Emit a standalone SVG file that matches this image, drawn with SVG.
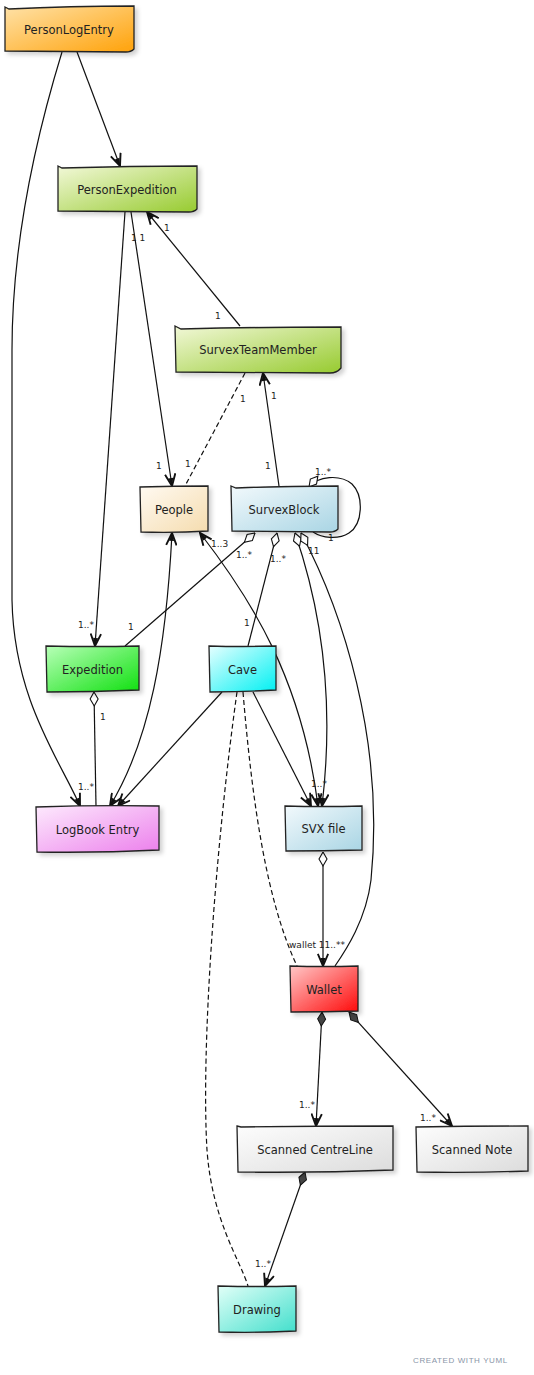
<svg xmlns="http://www.w3.org/2000/svg" width="534" height="1375" viewBox="0 0 534 1375">
<style>
.node path{stroke:#222;stroke-width:1.3;filter:url(#sh)}
.node text{font-family:"DejaVu Sans","Noto Sans",sans-serif;font-size:11.5px;fill:#222;text-anchor:middle}
.e{fill:none;stroke:#111;stroke-width:1.2}
.d{stroke-dasharray:5,3}
.lbl{font-family:"DejaVu Sans","Liberation Sans",sans-serif;font-size:9px;fill:#222}
.wm{font-family:"Liberation Sans","DejaVu Sans",sans-serif;font-size:8px;fill:#8a96a8;letter-spacing:0.6px}
</style>
<defs>
<filter id="sh" x="-10%" y="-10%" width="130%" height="140%"><feDropShadow dx="3" dy="3" stdDeviation="2" flood-color="#000" flood-opacity="0.18"/></filter>
<linearGradient id="gOr" x1="0" y1="0" x2="1" y2="1"><stop offset="0" stop-color="#ffe2a8"/><stop offset="1" stop-color="#ffa20a"/></linearGradient>
<linearGradient id="gYg" x1="0" y1="0" x2="1" y2="1"><stop offset="0" stop-color="#f2f8d8"/><stop offset="1" stop-color="#97cb30"/></linearGradient>
<linearGradient id="gWh" x1="0" y1="0" x2="1" y2="1"><stop offset="0" stop-color="#fffaf2"/><stop offset="1" stop-color="#f5dcae"/></linearGradient>
<linearGradient id="gLb" x1="0" y1="0" x2="1" y2="1"><stop offset="0" stop-color="#f2f9fc"/><stop offset="1" stop-color="#a9d5e4"/></linearGradient>
<linearGradient id="gGr" x1="0" y1="0" x2="1" y2="1"><stop offset="0" stop-color="#b8ffb8"/><stop offset="1" stop-color="#10e010"/></linearGradient>
<linearGradient id="gCy" x1="0" y1="0" x2="1" y2="1"><stop offset="0" stop-color="#e6ffff"/><stop offset="1" stop-color="#00f0f2"/></linearGradient>
<linearGradient id="gVi" x1="0" y1="0" x2="1" y2="1"><stop offset="0" stop-color="#fdeafd"/><stop offset="1" stop-color="#ec80ec"/></linearGradient>
<linearGradient id="gRd" x1="0" y1="0" x2="1" y2="1"><stop offset="0" stop-color="#ffc8c8"/><stop offset="1" stop-color="#ff0a0a"/></linearGradient>
<linearGradient id="gGy" x1="0" y1="0" x2="1" y2="1"><stop offset="0" stop-color="#fdfdfd"/><stop offset="1" stop-color="#dcdcdc"/></linearGradient>
<linearGradient id="gTq" x1="0" y1="0" x2="1" y2="1"><stop offset="0" stop-color="#e2fff8"/><stop offset="1" stop-color="#42dfcc"/></linearGradient>
<marker id="arr" viewBox="0 0 14 12" refX="13" refY="6" markerWidth="14" markerHeight="12" markerUnits="userSpaceOnUse" orient="auto-start-reverse"><path d="M0.8,0.8 L13,6 L0.8,11.2" fill="none" stroke="#111" stroke-width="1.9"/><path d="M13,6 L5,3.5 L5,8.5 Z" fill="#111"/></marker>
<marker id="dia" viewBox="0 0 16 10" refX="0.5" refY="5" markerWidth="16" markerHeight="10" markerUnits="userSpaceOnUse" orient="auto"><path d="M0.5,5 L7.5,1 L14.5,5 L7.5,9 Z" fill="#fff" stroke="#111" stroke-width="1.1"/></marker>
<marker id="fdia" viewBox="0 0 16 10" refX="0.5" refY="5" markerWidth="16" markerHeight="10" markerUnits="userSpaceOnUse" orient="auto"><path d="M0.5,5 L7.5,1 L14.5,5 L7.5,9 Z" fill="#444" stroke="#111" stroke-width="1"/></marker>
</defs>
<rect width="534" height="1375" fill="#fff"/>
<g id="connectors">
<path class="e" d="M77,52 L120,166" marker-end="url(#arr)"/>
<path class="e" d="M62,52 C32,150 12,250 12,350 L12,600 C14,700 60,760 80,806" marker-end="url(#arr)"/>
<path class="e" d="M125,212 L95,646" marker-end="url(#arr)"/>
<path class="e" d="M131,212 L172,486" marker-end="url(#arr)"/>
<path class="e" d="M240,326 L147,212" marker-end="url(#arr)"/>
<path class="e d" d="M245,373 L185,486"/>
<path class="e" d="M279,486 L263,373" marker-end="url(#arr)"/>
<path class="e" d="M309,487 C318,476 340,474 352,484 C364,496 363,524 349,533 C338,540 322,538 313,532" marker-start="url(#dia)"/>
<path class="e" d="M255,533 L125,646" marker-start="url(#dia)"/>
<path class="e" d="M277,533 L248,646" marker-start="url(#dia)"/>
<path class="e" d="M295,533 C318,600 336,690 322,806" marker-start="url(#dia)" marker-end="url(#arr)"/>
<path class="e" d="M301,533 C342,610 385,740 371,880 C366,920 346,950 335,966" marker-start="url(#dia)"/>
<path class="e" d="M200,533 C252,600 302,680 318,806" marker-start="url(#arr)" marker-end="url(#arr)"/>
<path class="e" d="M222,692 L118,806" marker-end="url(#arr)"/>
<path class="e" d="M253,692 L311,806" marker-end="url(#arr)"/>
<path class="e d" d="M237,692 C215,850 201,1050 207,1150 C212,1220 240,1260 248,1286"/>
<path class="e d" d="M243,692 C252,800 266,900 297,966"/>
<path class="e" d="M323,852 L323,966" marker-start="url(#dia)" marker-end="url(#arr)"/>
<path class="e" d="M322,1012 L316,1126" marker-start="url(#fdia)" marker-end="url(#arr)"/>
<path class="e" d="M349,1012 L452,1126" marker-start="url(#fdia)" marker-end="url(#arr)"/>
<path class="e" d="M305,1172 L265,1286" marker-start="url(#fdia)" marker-end="url(#arr)"/>
<path class="e" d="M94,692 L96,806" marker-start="url(#dia)"/>
<path class="e" d="M172,533 C166,650 150,740 110,806" marker-start="url(#arr)" marker-end="url(#arr)"/>
<text class="lbl" x="78" y="790">1..*</text>
<text class="lbl" x="100" y="720">1</text>
<text class="lbl" x="78" y="628">1..*</text>
<text class="lbl" x="128" y="630">1</text>
<text class="lbl" x="244" y="626">1</text>
<text class="lbl" x="211" y="547">1..3</text>
<text class="lbl" x="236" y="558">1..*</text>
<text class="lbl" x="270" y="562">1..*</text>
<text class="lbl" x="308" y="554">11</text>
<text class="lbl" x="315" y="475">1..*</text>
<text class="lbl" x="328" y="541">1</text>
<text class="lbl" x="265" y="469">1</text>
<text class="lbl" x="156" y="469">1</text>
<text class="lbl" x="185" y="467">1</text>
<text class="lbl" x="164" y="231">1</text>
<text class="lbl" x="131" y="241">1 1</text>
<text class="lbl" x="215" y="319">1</text>
<text class="lbl" x="240" y="402">1</text>
<text class="lbl" x="271" y="399">1</text>
<text class="lbl" x="311" y="787">1..*</text>
<text class="lbl" x="289" y="948">wallet 11..**</text>
<text class="lbl" x="299" y="1108">1..*</text>
<text class="lbl" x="420" y="1121">1..*</text>
<text class="lbl" x="255" y="1267">1..*</text>
</g>
<g id="PersonLogEntry" class="node"><path d="M5,7 L9,9 Q70,6 134,6 L134,49 Q131,52 126,52 L5,51 Z" fill="url(#gOr)"/><text x="69" y="33.5">PersonLogEntry</text></g>
<g id="PersonExpedition" class="node"><path d="M58,166 L62,168 Q130,166 197,166 L197,209 Q194,212 189,212 L58,211 Z" fill="url(#gYg)"/><text x="127" y="193.5">PersonExpedition</text></g>
<g id="SurvexTeamMember" class="node"><path d="M175,326 L181,329 Q260,327 341,327 L341,368 Q337,373 330,373 L176,372 Z" fill="url(#gYg)"/><text x="258" y="353.5">SurvexTeamMember</text></g>
<g id="People" class="node"><path d="M140,487 Q175,486 208,486 L208,531 Q175,533 141,532 Z" fill="url(#gWh)"/><text x="174" y="513.5">People</text></g>
<g id="SurvexBlock" class="node"><path d="M231,486 L236,488 Q290,486 338,486 L338,529 Q335,532 330,532 L232,531 Z" fill="url(#gLb)"/><text x="284" y="513.5">SurvexBlock</text></g>
<g id="Expedition" class="node"><path d="M46,646 Q93,647 139,646 L139,690 Q93,692 47,692 Z" fill="url(#gGr)"/><text x="92.5" y="673.5">Expedition</text></g>
<g id="Cave" class="node"><path d="M209,646 Q243,647 276,646 L276,690 Q243,692 210,692 Z" fill="url(#gCy)"/><text x="242.5" y="673.5">Cave</text></g>
<g id="LogBookEntry" class="node"><path d="M36,807 Q98,805 159,806 L159,850 Q98,853 37,852 Z" fill="url(#gVi)"/><text x="97.5" y="833.5">LogBook Entry</text></g>
<g id="SVXfile" class="node"><path d="M285,806 Q323,807 362,806 L362,850 Q323,851 286,851 Z" fill="url(#gLb)"/><text x="323.5" y="833">SVX file</text></g>
<g id="Wallet" class="node"><path d="M290,966 Q324,967 358,966 L358,1011 Q324,1012 291,1012 Z" fill="url(#gRd)"/><text x="324" y="993.5">Wallet</text></g>
<g id="ScannedCentreLine" class="node"><path d="M237,1126 L241,1127 Q317,1126 393,1126 L393,1170 Q317,1173 238,1172 Z" fill="url(#gGy)"/><text x="315" y="1153.5">Scanned CentreLine</text></g>
<g id="ScannedNote" class="node"><path d="M416,1127 Q472,1126 528,1126 L528,1171 Q472,1173 417,1172 Z" fill="url(#gGy)"/><text x="472" y="1153.5">Scanned Note</text></g>
<g id="Drawing" class="node"><path d="M218,1286 Q257,1287 296,1286 L296,1331 Q257,1333 219,1332 Z" fill="url(#gTq)"/><text x="257" y="1313.5">Drawing</text></g>
<text class="wm" x="413" y="1363">CREATED WITH YUML</text>
</svg>
